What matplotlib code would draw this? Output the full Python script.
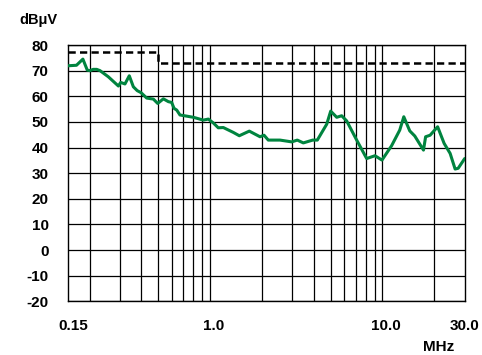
import matplotlib
matplotlib.use('Agg')
import matplotlib.pyplot as plt
import matplotlib.transforms as mtransforms
from matplotlib.ticker import NullFormatter

plt.rcParams['font.family'] = ['Liberation Sans', 'DejaVu Sans']
plt.rcParams['font.weight'] = 'bold'

# measured emission (MHz, dBuV)
freq = [0.150, 0.168, 0.183, 0.194, 0.201, 0.210, 0.220, 0.230, 0.257, 0.294,
        0.303, 0.321, 0.340, 0.359, 0.378, 0.398, 0.429, 0.469, 0.497, 0.536,
        0.573, 0.599, 0.618, 0.641, 0.669, 0.800, 0.914, 0.977, 1.044, 1.116,
        1.194, 1.364, 1.478, 1.689, 1.949, 2.057, 2.177, 2.545, 2.977, 3.207,
        3.475, 3.940, 4.19, 4.75, 5.01, 5.43, 5.80, 6.20, 7.09, 8.10,
        9.05, 9.94, 11.3, 12.6, 13.3, 14.4, 15.4, 17.3, 17.8, 18.9,
        20.9, 22.8, 24.7, 26.4, 27.5, 30.0]
level = [71.9, 72.1, 74.5, 70.2, 70.0, 70.5, 70.5, 70.0, 67.6, 64.0,
         65.4, 64.8, 68.0, 63.7, 62.2, 61.4, 59.3, 58.9, 57.2, 59.0,
         57.9, 57.6, 55.3, 54.6, 52.7, 51.8, 50.7, 51.1, 49.6, 47.7,
         47.8, 45.9, 44.6, 46.4, 44.2, 44.8, 42.9, 42.9, 42.2, 42.9,
         41.8, 42.9, 42.9, 49.1, 54.2, 51.8, 52.4, 50.4, 42.9, 35.7,
         36.8, 35.1, 40.7, 46.8, 52.0, 46.5, 44.5, 39.0, 44.2, 44.8,
         48.1, 41.6, 37.7, 31.6, 31.9, 35.7]

# limit line
limit_freq = [0.15, 0.5, 30.0]
limit_level = [77.4, 73.0, 73.0]

yticks = [80, 70, 60, 50, 40, 30, 20, 10, 0, -10, -20]
xticks = [0.15, 1.0, 10.0, 30.0]
xlabels = ['0.15', '1.0', '10.0', '30.0']
xgrid = [0.2, 0.3, 0.4, 0.5, 0.6, 0.7, 0.8, 0.9, 1, 2, 3, 4, 5, 6, 7, 8, 9, 10, 20]

fig = plt.figure(figsize=(4.82, 3.55), dpi=100)
ax = fig.add_axes([0.1411, 0.1513, 0.823, 0.7219])
ax.set_xscale('log')
ax.set_xlim(0.15, 30)
ax.set_ylim(-20, 80)

for xv in xgrid:
    ax.axvline(xv, color='black', lw=0.9, zorder=1)
for yv in yticks:
    ax.axhline(yv, color='black', lw=0.9, zorder=1)

ax.plot(limit_freq, limit_level, drawstyle='steps-post', color='black',
        lw=1.8, dashes=(2.9, 1.7), zorder=3)
ax.plot(freq, level, color='#00843f', lw=2.2, zorder=4,
        solid_joinstyle='round', solid_capstyle='round')

ax.set_yticks(yticks)
ax.set_yticklabels([str(v) for v in yticks])
ax.set_xticks(xticks)
ax.set_xticklabels(xlabels)
ax.xaxis.set_minor_formatter(NullFormatter())
ax.tick_params(axis='both', which='both', length=0, labelsize=11)
ax.tick_params(axis='y', pad=14)
ax.tick_params(axis='x', pad=13)
# labels sit a little right of their grid lines; the last one is kept inside the figure
shifts = [5, 4, 3, 0]
for lab, dx in zip(ax.get_xticklabels(), shifts):
    off = mtransforms.ScaledTranslation(dx / 100, 0, fig.dpi_scale_trans)
    lab.set_transform(lab.get_transform() + off)

for sp in ax.spines.values():
    sp.set_linewidth(1.0)
    sp.set_color('black')

fig.text(19 / 482, 1 - 20 / 355, 'dBμV', fontsize=10.5, fontweight='bold',
         ha='left', va='center')
fig.text(439 / 482, 1 - 347 / 355, 'MHz', fontsize=11, fontweight='bold',
         ha='center', va='center')

fig.savefig('out.png', dpi=100)
